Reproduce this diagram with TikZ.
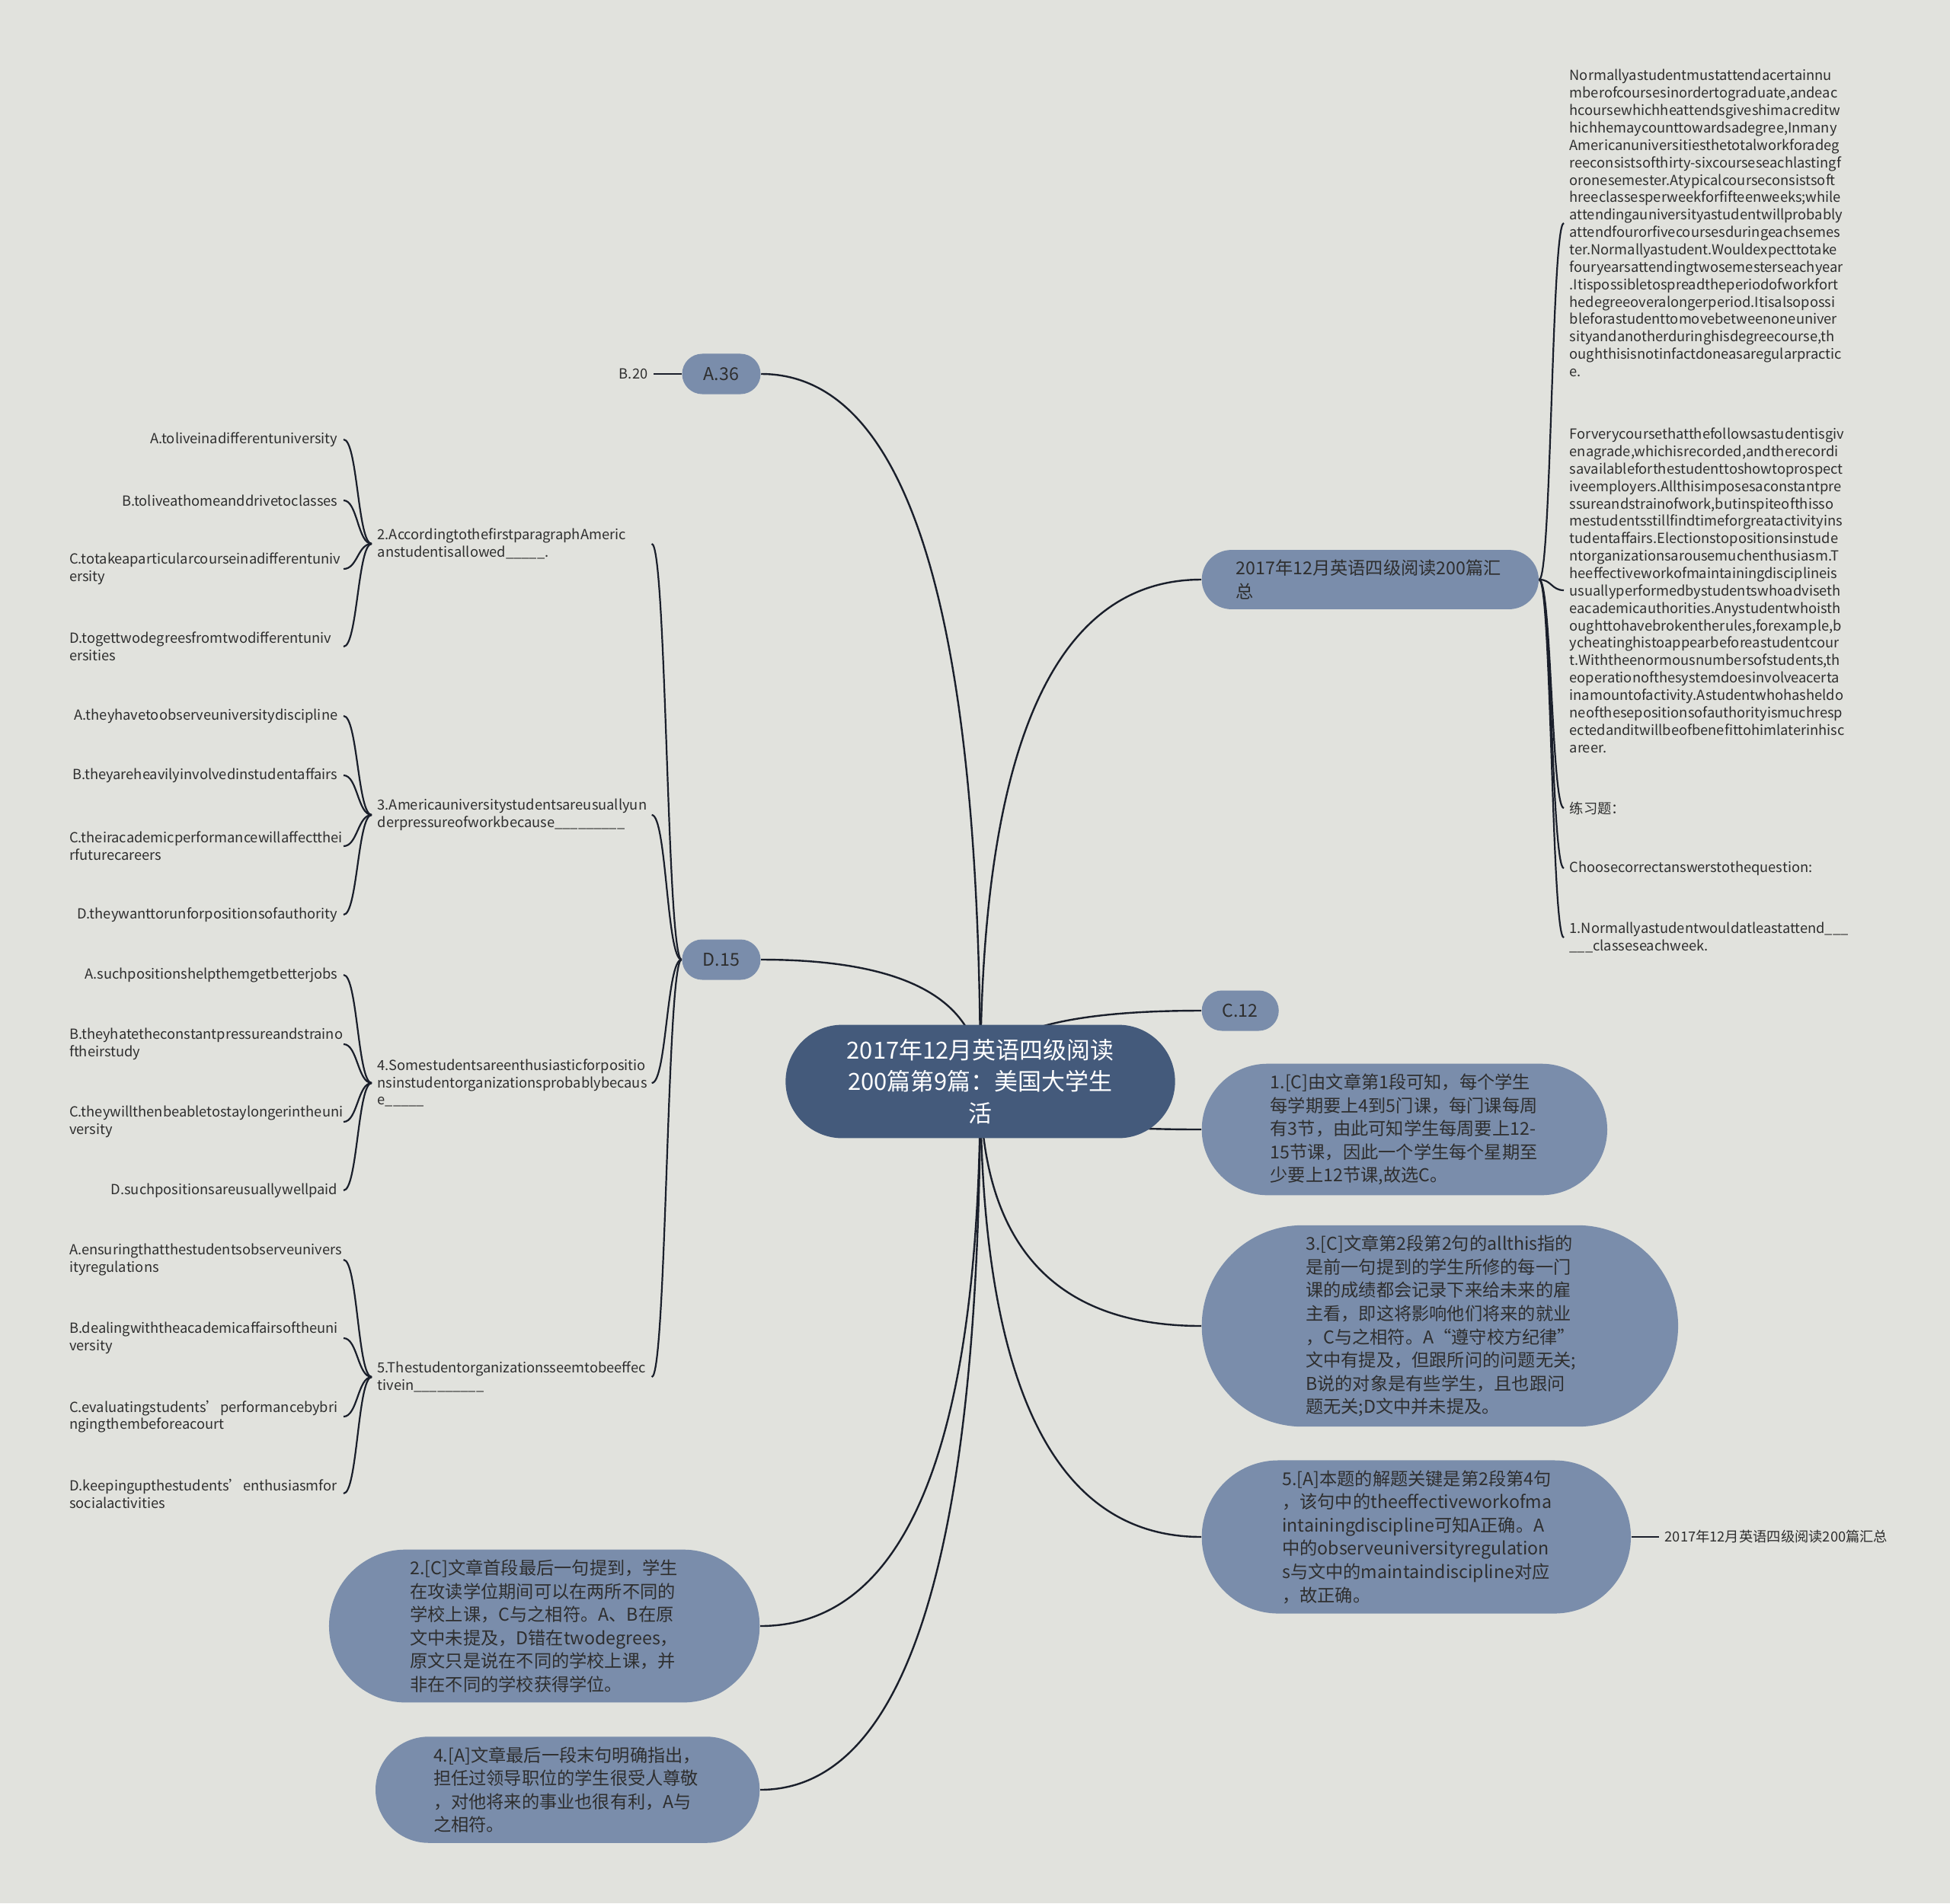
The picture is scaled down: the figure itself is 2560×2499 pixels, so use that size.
\documentclass[tikz,border=0pt]{standalone}
\usepackage{fontspec}
\setmainfont{Noto Sans CJK SC}
\usetikzlibrary{calc,shapes.misc}
\pgfdeclarelayer{bg}
\pgfsetlayers{bg,main}
\definecolor{bgpaper}{HTML}{E1E2DD}
\definecolor{rootblue}{HTML}{445A7B}
\definecolor{topicblue}{HTML}{7A8DAB}
\definecolor{inkgray}{HTML}{2E2E2E}
\definecolor{linkblack}{HTML}{1A1F2B}
\hyphenpenalty=10000
\exhyphenpenalty=10000
\begin{document}
\begin{tikzpicture}[x=0.01cm,y=-0.01cm,
    rootbox/.style={rounded rectangle, fill=rootblue, text=white, font=\fontsize{8.8}{11.7}\selectfont,
        text width=3.51cm, align=center, inner xsep=0.03cm, inner ysep=0.19cm, minimum width=5.17cm},
    topic/.style={rounded rectangle, fill=topicblue, text=inkgray, font=\fontsize{6.6}{8.7}\selectfont,
        align=left, inner xsep=0.03cm, inner ysep=0.13cm, minimum height=0.53cm},
    wide/.style={text width=3.52cm},
    leaf/.style={text=inkgray, font=\fontsize{5.2}{6.5}\selectfont, align=left, inner xsep=0.07cm, inner ysep=0.02cm},
    link/.style={draw=linkblack, line width=0.022cm,
        to path={let \p1=(\tikztostart), \p2=(\tikztotarget) in
            .. controls ({(\x1+\x2)/2},\y1) and ({(\x1+\x2)/2},\y2) .. (\p2)}},
    rootlink/.style={draw=linkblack, line width=0.024cm,
        to path={let \p1=(\tikztostart), \p2=(\tikztotarget) in
            .. controls (\x1,{\y1+(\y2-\y1)*2/3}) and ({\x2+(\x1-\x2)*2/3},\y2) .. (\p2)}}]
    \begin{pgfonlayer}{bg}
        \fill[bgpaper] (0,0) rectangle (2560,2499);
    \end{pgfonlayer}

    \node[rootbox] (root) at (1287,1420) {2017年12月英语四级阅读\\200篇第9篇：美国大学生\\活};

    \node[topic, minimum width=1.09cm] (a36) at (947,491) {A.36};
    \node[topic, minimum width=1.09cm] (d15) at (947,1260) {D.15};
    \node[topic, wide, minimum width=5.71cm, anchor=east] (ans2) at (998,2135) {2.[C]文章首段最后一句提到，学生\\在攻读学位期间可以在两所不同的\\学校上课，C与之相符。A、B在原\\文中未提及，D错在twodegrees，\\原文只是说在不同的学校上课，并\\非在不同的学校获得学位。};
    \node[topic, wide, minimum width=5.10cm, anchor=east] (ans4) at (998,2350) {4.[A]文章最后一段末句明确指出，\\担任过领导职位的学生很受人尊敬\\，对他将来的事业也很有利，A与\\之相符。};

    \node[topic, wide, minimum width=4.48cm, anchor=west] (hz) at (1577,761) {2017年12月英语四级阅读200篇汇\\总};
    \node[topic, minimum width=1.07cm, anchor=west] (c12) at (1577,1327) {C.12};
    \node[topic, wide, minimum width=5.38cm, anchor=west] (ans1) at (1577,1483) {1.[C]由文章第1段可知，每个学生\\每学期要上4到5门课，每门课每周\\有3节，由此可知学生每周要上12-\\15节课，因此一个学生每个星期至\\少要上12节课,故选C。};
    \node[topic, wide, minimum width=6.31cm, anchor=west] (ans3) at (1577,1741) {3.[C]文章第2段第2句的allthis指的\\是前一句提到的学生所修的每一门\\课的成绩都会记录下来给未来的雇\\主看，即这将影响他们将来的就业\\，C与之相符。A“遵守校方纪律”\\文中有提及，但跟所问的问题无关;\\B说的对象是有些学生，且也跟问\\题无关;D文中并未提及。};
    \node[topic, wide, minimum width=5.69cm, anchor=west] (ans5) at (1577,2018) {5.[A]本题的解题关键是第2段第4句\\，该句中的theeffectiveworkofma\\intainingdiscipline可知A正确。A\\中的observeuniversityregulation\\s与文中的maintaindiscipline对应\\，故正确。};

    \node[leaf, anchor=east] (b20) at (858,491) {B.20};
    \node[leaf, anchor=west] (hzleaf) at (2178,2018) {2017年12月英语四级阅读200篇汇总};

    \node[leaf, anchor=west] (para1) at (2053,293) {Normallyastudentmustattendacertainnu\\mberofcoursesinordertograduate,andeac\\hcoursewhichheattendsgiveshimacreditw\\hichhemaycounttowardsadegree,Inmany\\Americanuniversitiesthetotalworkforadeg\\reeconsistsofthirty-sixcourseseachlastingf\\oronesemester.Atypicalcourseconsistsoft\\hreeclassesperweekforfifteenweeks;while\\attendingauniversityastudentwillprobably\\attendfourorfivecoursesduringeachsemes\\ter.Normallyastudent.Wouldexpecttotake\\fouryearsattendingtwosemesterseachyear\\.Itispossibletospreadtheperiodofworkfort\\hedegreeoveralongerperiod.Itisalsopossi\\bleforastudenttomovebetweenoneuniver\\sityandanotherduringhisdegreecourse,th\\oughthisisnotinfactdoneasaregularpractic\\e.};
    \node[leaf, anchor=west] (para2) at (2053,775) {Forverycoursethatthefollowsastudentisgiv\\enagrade,whichisrecorded,andtherecordi\\savailableforthestudenttoshowtoprospect\\iveemployers.Allthisimposesaconstantpre\\ssureandstrainofwork,butinspiteofthisso\\mestudentsstillfindtimeforgreatactivityins\\tudentaffairs.Electionstopositionsinstude\\ntorganizationsarousemuchenthusiasm.T\\heeffectiveworkofmaintainingdisciplineis\\usuallyperformedbystudentswhoadviseth\\eacademicauthorities.Anystudentwhoisth\\oughttohavebrokentherules,forexample,b\\ycheatinghistoappearbeforeastudentcour\\t.Withtheenormousnumbersofstudents,th\\eoperationofthesystemdoesinvolveacerta\\inamountofactivity.Astudentwhohasheldo\\neofthesepositionsofauthorityismuchresp\\ectedanditwillbeofbenefittohimlaterinhisc\\areer.};
    \node[leaf, anchor=west] (drill) at (2053,1061) {练习题：};
    \node[leaf, anchor=west] (choose) at (2053,1140) {Choosecorrectanswerstothequestion:};
    \node[leaf, anchor=west] (q1) at (2053,1231) {1.Normallyastudentwouldatleastattend\_\_\_\\\_\_\_classeseachweek.};

    \node[leaf, wide, anchor=west] (q2) at (488,714) {2.AccordingtothefirstparagraphAmeric\\anstudentisallowed\_\_\_\_\_.};
    \node[leaf, anchor=east] (o2a) at (451,577) {A.toliveinadifferentuniversity};
    \node[leaf, anchor=east] (o2b) at (451,657) {B.toliveathomeanddrivetoclasses};
    \node[leaf, wide, anchor=east] (o2c) at (451,747) {C.totakeaparticularcourseinadifferentuniv\\ersity};
    \node[leaf, wide, anchor=east] (o2d) at (451,849) {D.togettwodegreesfromtwodifferentuniv\\ersities};

    \node[leaf, wide, anchor=west] (q3) at (488,1070) {3.Americauniversitystudentsareusuallyun\\derpressureofworkbecause\_\_\_\_\_\_\_\_\_};
    \node[leaf, anchor=east] (o3a) at (451,940) {A.theyhavetoobserveuniversitydiscipline};
    \node[leaf, anchor=east] (o3b) at (451,1018) {B.theyareheavilyinvolvedinstudentaffairs};
    \node[leaf, wide, anchor=east] (o3c) at (451,1111) {C.theiracademicperformancewillaffectthei\\rfuturecareers};
    \node[leaf, anchor=east] (o3d) at (451,1201) {D.theywanttorunforpositionsofauthority};

    \node[leaf, wide, anchor=west] (q4) at (488,1422) {4.Somestudentsareenthusiasticforpositio\\nsinstudentorganizationsprobablybecaus\\e\_\_\_\_\_};
    \node[leaf, anchor=east] (o4a) at (451,1280) {A.suchpositionshelpthemgetbetterjobs};
    \node[leaf, wide, anchor=east] (o4b) at (451,1371) {B.theyhatetheconstantpressureandstraino\\ftheirstudy};
    \node[leaf, wide, anchor=east] (o4c) at (451,1473) {C.theywillthenbeabletostaylongerintheuni\\versity};
    \node[leaf, anchor=east] (o4d) at (451,1563) {D.suchpositionsareusuallywellpaid};

    \node[leaf, wide, anchor=west] (q5) at (488,1808) {5.Thestudentorganizationsseemtobeeffec\\tivein\_\_\_\_\_\_\_\_\_};
    \node[leaf, wide, anchor=east] (o5a) at (451,1654) {A.ensuringthatthestudentsobserveunivers\\ityregulations};
    \node[leaf, wide, anchor=east] (o5b) at (451,1757) {B.dealingwiththeacademicaffairsoftheuni\\versity};
    \node[leaf, wide, anchor=east] (o5c) at (451,1860) {C.evaluatingstudents’performancebybri\\ngingthembeforeacourt};
    \node[leaf, wide, anchor=east] (o5d) at (451,1961) {D.keepingupthestudents’enthusiasmfor\\socialactivities};

    \begin{pgfonlayer}{bg}
        \draw[rootlink] (root.center) to (a36.east);
        \draw[rootlink] (root.center) to (d15.east);
        \draw[rootlink] (root.center) to (ans2.east);
        \draw[rootlink] (root.center) to (ans4.east);
        \draw[rootlink] (root.center) to (hz.west);
        \draw[rootlink] (root.center) to (c12.west);
        \draw[rootlink] (root.center) to (ans1.west);
        \draw[rootlink] (root.center) to (ans3.west);
        \draw[rootlink] (root.center) to (ans5.west);

        \draw[link] (a36.west) to (b20.east);
        \draw[link] (ans5.east) to (hzleaf.west);

        \draw[link] (hz.east) to (para1.west);
        \draw[link] (hz.east) to (para2.west);
        \draw[link] (hz.east) to (drill.west);
        \draw[link] (hz.east) to (choose.west);
        \draw[link] (hz.east) to (q1.west);

        \draw[link] (d15.west) to (q2.east);
        \draw[link] (d15.west) to (q3.east);
        \draw[link] (d15.west) to (q4.east);
        \draw[link] (d15.west) to (q5.east);

        \draw[link] (q2.west) to (o2a.east);
        \draw[link] (q2.west) to (o2b.east);
        \draw[link] (q2.west) to (o2c.east);
        \draw[link] (q2.west) to (o2d.east);
        \draw[link] (q3.west) to (o3a.east);
        \draw[link] (q3.west) to (o3b.east);
        \draw[link] (q3.west) to (o3c.east);
        \draw[link] (q3.west) to (o3d.east);
        \draw[link] (q4.west) to (o4a.east);
        \draw[link] (q4.west) to (o4b.east);
        \draw[link] (q4.west) to (o4c.east);
        \draw[link] (q4.west) to (o4d.east);
        \draw[link] (q5.west) to (o5a.east);
        \draw[link] (q5.west) to (o5b.east);
        \draw[link] (q5.west) to (o5c.east);
        \draw[link] (q5.west) to (o5d.east);
    \end{pgfonlayer}
\end{tikzpicture}
\end{document}
